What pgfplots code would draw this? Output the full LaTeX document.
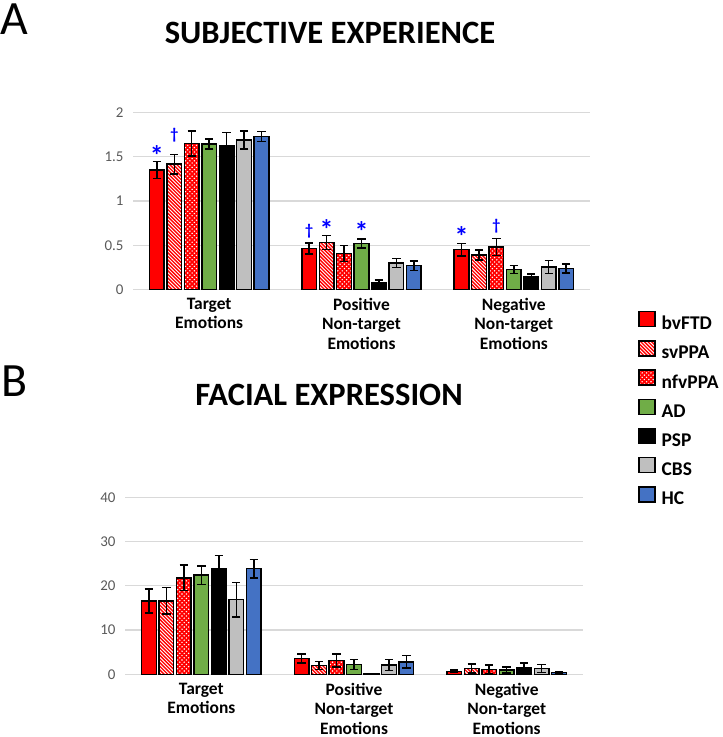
\documentclass[border=0pt]{standalone}
\usepackage{pgfplots}
\pgfplotsset{compat=1.18}
\usepackage{fontspec}
\setmainfont{Carlito}
\definecolor{adgreen}{HTML}{70AD47}
\definecolor{hcblue}{HTML}{4472C4}
\definecolor{cbsgray}{HTML}{BFBFBF}
\definecolor{tickgray}{HTML}{595959}
\definecolor{gridgray}{HTML}{D9D9D9}
\newcommand\fs[2]{\fontsize{#1}{#2}\selectfont}
\tikzset{
  sig/.style={font=\fs{28}{30}\bfseries, text=blue, anchor=base, inner sep=0pt},
  dag/.style={font=\fs{16}{18}\bfseries, text=blue, anchor=base, inner sep=0pt},
  redstripes/.style={path picture={
    \foreach \k in {0,...,#1}{
      \draw[path picture={}, draw=red, line width=1.35bp] ([xshift=-2bp, yshift=\k*3.6bp]path picture bounding box.south west) -- ++(24bp,-24bp);
    }}},
  whitedots/.style={path picture={
    \foreach \j in {0,...,#1}{
      \foreach \i in {0,...,3}{
        \fill[path picture={}, draw=none, fill=white] ([xshift=\i*4.4bp+1.1bp, yshift=\j*4.4bp+1.1bp]path picture bounding box.south west) circle (0.8bp);
        \fill[path picture={}, draw=none, fill=white] ([xshift=\i*4.4bp+3.3bp, yshift=\j*4.4bp+3.3bp]path picture bounding box.south west) circle (0.8bp);
      }
    }}},
}
\pgfplotsset{
  sq/.style={legend image code/.code={\draw[##1] (0bp,-1.5bp) rectangle (16bp,13.5bp);}},
  sbv/.style={fill=red, draw=black, line width=1.4bp, sq},
  ssv/.style={fill=white, draw=black, line width=1.4bp, redstripes=#1, sq},
  snf/.style={fill=red, draw=black, line width=1.4bp, whitedots=#1, sq},
  sad/.style={fill=adgreen, draw=black, line width=1.4bp, sq},
  sps/.style={fill=black, draw=black, line width=1.4bp, sq},
  scb/.style={fill=cbsgray, draw=black, line width=1.4bp, sq},
  shc/.style={fill=hcblue, draw=black, line width=1.4bp, sq},
  mybars/.style={
    scale only axis,
    ybar, bar width=0.096,
    xmin=-0.5, xmax=2.5,
    xtick={0,1,2},
    xticklabels={{Target\\Emotions},{Positive\\Non-target\\Emotions},{Negative\\Non-target\\Emotions}},
    xticklabel style={align=center, font=\fs{17.5}{19.6}\bfseries, text=black, yshift=-5bp},
    yticklabel style={font=\fs{15}{17}, text=tickgray, xshift=-6bp},
    /pgf/number format/assume math mode=true,
    axis line style={draw=none},
    tick style={draw=none},
    major tick length=0pt,
    ymajorgrids,
    grid style={draw=gridgray, line width=1.3bp},
    clip=false,
    error bars/y dir=both, error bars/y explicit,
    error bars/error bar style={line width=1.5bp, draw=black, path picture={}},
    error bars/error mark options={rotate=90, mark size=4.2bp, line width=1.5bp, draw=black, path picture={}},
  },
}
\begin{document}
\begin{tikzpicture}
\path[use as bounding box] (0,0) rectangle (723bp,-737bp);
\node[anchor=base west, inner sep=0pt, font=\fs{48}{50}] at (0bp,-34.5bp) {A};
\node[anchor=base west, inner sep=0pt, font=\fs{48}{50}] at (1bp,-396bp) {B};
\node[anchor=base, inner sep=0pt, font=\fs{32.7}{34}\bfseries] at (330bp,-43bp) {SUBJECTIVE EXPERIENCE};
\node[anchor=base, inner sep=0pt, font=\fs{32.7}{34}\bfseries] at (329bp,-405bp) {FACIAL EXPRESSION};

\begin{axis}[mybars,
  at={(133bp,-289.5bp)}, anchor=south west,
  width=457bp, height=177bp,
  ymin=0, ymax=2, ytick={0,0.5,1,1.5,2},
  legend style={at={(axis description cs:1.105,-0.12)}, anchor=north west,
    draw=none, fill=none, inner sep=0pt, row sep=7.5bp,
    font=\fs{19.5}{21}\bfseries,
    nodes={inner sep=0pt, text height=12bp, text depth=3bp},
    /tikz/every odd column/.append style={column sep=6bp}},
  legend cell align=left,
]
\addplot[sbv, bar shift=-0.3435] coordinates {(0,1.35) +- (0,0.095) (1,0.463) +- (0,0.064) (2,0.45) +- (0,0.07)};
\addlegendentry{bvFTD}
\addplot[ssv=18, bar shift=-0.229] coordinates {(1,0.53) +- (0,0.08)};
\addlegendentry{svPPA}
\addplot[snf=11, bar shift=-0.1145] coordinates {(1,0.406) +- (0,0.09)};
\addlegendentry{nfvPPA}
\addplot[sad, bar shift=0] coordinates {(0,1.645) +- (0,0.056) (1,0.52) +- (0,0.05) (2,0.226) +- (0,0.045)};
\addlegendentry{AD}
\addplot[sps, bar shift=0.1145] coordinates {(0,1.625) +- (0,0.15) (1,0.08) +- (0,0.03) (2,0.14) +- (0,0.037)};
\addlegendentry{PSP}
\addplot[scb, bar shift=0.229] coordinates {(0,1.69) +- (0,0.1) (1,0.30) +- (0,0.053) (2,0.255) +- (0,0.075)};
\addlegendentry{CBS}
\addplot[shc, bar shift=0.3435] coordinates {(0,1.73) +- (0,0.058) (1,0.27) +- (0,0.053) (2,0.237) +- (0,0.053)};
\addlegendentry{HC}
\addplot[ssv=40, bar shift=-0.229, forget plot] coordinates {(0,1.417) +- (0,0.11)};
\addplot[ssv=18, bar shift=-0.229, forget plot] coordinates {(2,0.39) +- (0,0.056)};
\addplot[snf=33, bar shift=-0.1145, forget plot] coordinates {(0,1.65) +- (0,0.14)};
\addplot[snf=11, bar shift=-0.1145, forget plot] coordinates {(2,0.48) +- (0,0.095)};
\node[sig] at (axis cs:-0.3435,1.397) {*};
\node[dag] at (axis cs:-0.229,1.69) {†};
\node[dag] at (axis cs:0.6565,0.61) {†};
\node[sig] at (axis cs:0.771,0.562) {*};
\node[sig] at (axis cs:1.0,0.542) {*};
\node[sig] at (axis cs:1.6565,0.487) {*};
\node[dag] at (axis cs:1.8855,0.665) {†};
\end{axis}

\begin{axis}[mybars,
  at={(125bp,-674.3bp)}, anchor=south west,
  width=458bp, height=177bp,
  ymin=0, ymax=40, ytick={0,10,20,30,40},
]
\addplot[sbv, bar shift=-0.3435] coordinates {(0,16.6) +- (0,2.7) (1,3.6) +- (0,1.0) (2,0.7) +- (0,0.3)};
\addplot[ssv=30, bar shift=-0.229] coordinates {(0,16.6) +- (0,3.0)};
\addplot[ssv=8, bar shift=-0.229] coordinates {(1,2.0) +- (0,0.9)};
\addplot[ssv=8, bar shift=-0.229] coordinates {(2,1.35) +- (0,1.0)};
\addplot[snf=22, bar shift=-0.1145] coordinates {(0,21.8) +- (0,2.9)};
\addplot[snf=4, bar shift=-0.1145] coordinates {(1,3.1) +- (0,1.5)};
\addplot[snf=4, bar shift=-0.1145] coordinates {(2,1.1) +- (0,1.0)};
\addplot[sad, bar shift=0] coordinates {(0,22.4) +- (0,2.1) (1,2.2) +- (0,1.1) (2,1.0) +- (0,0.7)};
\addplot[sps, bar shift=0.1145] coordinates {(0,23.9) +- (0,2.9) (1,0.1) +- (0,0) (2,1.6) +- (0,1.0)};
\addplot[scb, bar shift=0.229] coordinates {(0,16.9) +- (0,3.9) (1,2.1) +- (0,1.2) (2,1.35) +- (0,0.9)};
\addplot[shc, bar shift=0.3435] coordinates {(0,23.9) +- (0,2.1) (1,2.8) +- (0,1.4) (2,0.45) +- (0,0.1)};
\end{axis}
\end{tikzpicture}
\end{document}
